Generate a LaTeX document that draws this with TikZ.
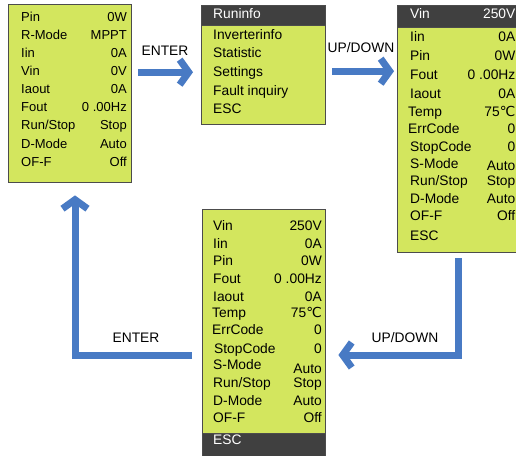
\documentclass[tikz,border=0pt]{standalone}
\usepackage{fontspec}
\setmainfont{Liberation Sans}
\newfontfamily\symfont{DejaVu Sans}
\usetikzlibrary{arrows.meta,positioning}
\definecolor{lcd}{RGB}{211,230,94}
\definecolor{lcddark}{RGB}{64,64,64}
\definecolor{flowblue}{RGB}{72,122,196}

\begin{document}
\begin{tikzpicture}[x=1pt,y=-1pt,every node/.style={font=\fontsize{13.8}{16}\selectfont}]
  \tikzset{panel/.style={draw=black!70,fill=lcd,anchor=north west,inner sep=0pt},
           bar/.style={draw=black!70,fill=lcddark,anchor=north west,inner sep=0pt},
           lbl/.style={anchor=mid west,inner sep=0pt},
           val/.style={anchor=mid east,inner sep=0pt},
           hd/.style={text=white},
           small/.style={font=\fontsize{13}{15}\selectfont},
           flow/.style={draw=flowblue,line width=7pt,-{Straight Barb[length=9pt,width=25pt]}}}
  \useasboundingbox (0,0) rectangle (516,455);
  % screens
  \node[panel,minimum width=123pt,minimum height=178pt] (p1) at (8,4) {};
  \node[panel,minimum width=124pt,minimum height=119pt] (p2) at (201,5) {};
  \node[bar,minimum width=124pt,minimum height=20pt] (h2) at (201,5) {};
  \node[panel,minimum width=130pt,minimum height=247pt] (p3) at (397,5) {};
  \node[bar,minimum width=130pt,minimum height=22pt] (h3) at (397,5) {};
  \node[panel,minimum width=123pt,minimum height=260pt] (p4) at (202,209) {};
  \node[bar,minimum width=123pt,minimum height=36pt] (f4) at (202,433) {};
  % main screen
  \node[lbl,small] (a1) at (21,19) {Pin};        \node[val,small] (a1v) at (127,19) {0W};
  \node[lbl,small] (a2) at (21,37) {R-Mode};     \node[val,small] (a2v) at (127,37) {MPPT};
  \node[lbl,small] (a3) at (21,55) {Iin};        \node[val,small] (a3v) at (127,55) {0A};
  \node[lbl,small] (a4) at (21,73) {Vin};        \node[val,small] (a4v) at (127,73) {0V};
  \node[lbl,small] (a5) at (21,91) {Iaout};      \node[val,small] (a5v) at (127,91) {0A};
  \node[lbl,small] (a6) at (21,109) {Fout};      \node[val,small] (a6v) at (127,109) {0 .00Hz};
  \node[lbl,small] (a7) at (21,127) {Run/Stop};  \node[val,small] (a7v) at (127,127) {Stop};
  \node[lbl,small] (a8) at (21,146) {D-Mode};    \node[val,small] (a8v) at (127,146) {Auto};
  \node[lbl,small] (a9) at (21,164) {OF-F};      \node[val,small] (a9v) at (127,164) {Off};
  % menu
  \node[lbl,hd] (b0) at (213,16) {Runinfo};
  \node[lbl] (b1) at (213,37) {Inverterinfo};
  \node[lbl] (b2) at (213,55) {Statistic};
  \node[lbl] (b3) at (213,74) {Settings};
  \node[lbl] (b4) at (213,93) {Fault inquiry};
  \node[lbl] (b5) at (213,111) {ESC};
  % run info, first page
  \node[lbl,hd] (c0) at (410,16) {Vin};          \node[val,hd] (c0v) at (515.5,16) {250V};
  \node[lbl] (c1) at (410,39) {Iin};             \node[val] (c1v) at (515.5,39) {0A};
  \node[lbl] (c2) at (410,58) {Pin};             \node[val] (c2v) at (515.5,58) {0W};
  \node[lbl] (c3) at (410,77) {Fout};            \node[val] (c3v) at (515.5,77) {0 .00Hz};
  \node[lbl] (c4) at (410,96) {Iaout};           \node[val] (c4v) at (515.5,96) {0A};
  \node[lbl] (c5) at (408,114) {Temp};           \node[val] (c5v) at (515.5,114) {75{\symfont ℃}};
  \node[lbl] (c6) at (408,131) {ErrCode};        \node[val] (c6v) at (515.5,131) {0};
  \node[lbl] (c7) at (410,149) {StopCode};       \node[val] (c7v) at (515.5,149) {0};
  \node[lbl] (c8) at (410,166) {S-Mode};         \node[val] (c8v) at (515.5,168) {Auto};
  \node[lbl] (c9) at (410,183) {Run/Stop};       \node[val] (c9v) at (515.5,183) {Stop};
  \node[lbl] (c10) at (410,201) {D-Mode};        \node[val] (c10v) at (515.5,201) {Auto};
  \node[lbl] (c11) at (410,218) {OF-F};          \node[val] (c11v) at (515.5,218) {Off};
  \node[lbl] (c12) at (410,238) {ESC};
  % run info, last page
  \node[lbl] (d0) at (213,228) {Vin};            \node[val] (d0v) at (322,228) {250V};
  \node[lbl] (d1) at (213,246) {Iin};            \node[val] (d1v) at (322,246) {0A};
  \node[lbl] (d2) at (213,263) {Pin};            \node[val] (d2v) at (322,263) {0W};
  \node[lbl] (d3) at (213,281) {Fout};           \node[val] (d3v) at (322,281) {0 .00Hz};
  \node[lbl] (d4) at (213,299) {Iaout};          \node[val] (d4v) at (322,299) {0A};
  \node[lbl] (d5) at (212,315) {Temp};           \node[val] (d5v) at (322,315) {75{\symfont ℃}};
  \node[lbl] (d6) at (212,332) {ErrCode};        \node[val] (d6v) at (322,332) {0};
  \node[lbl] (d7) at (214,351) {StopCode};       \node[val] (d7v) at (322,351) {0};
  \node[lbl] (d8) at (213,367) {S-Mode};         \node[val] (d8v) at (322,371) {Auto};
  \node[lbl] (d9) at (213,385) {Run/Stop};       \node[val] (d9v) at (322,385) {Stop};
  \node[lbl] (d10) at (213,403) {D-Mode};        \node[val] (d10v) at (322,403) {Auto};
  \node[lbl] (d11) at (213,420) {OF-F};          \node[val] (d11v) at (322,420) {Off};
  \node[lbl,hd] (d12) at (213,442) {ESC};
  % keys
  \node (k1) at (165,51) {ENTER};
  \node (k2) at (361,48) {UP/DOWN};
  \node (k3) at (405,338) {UP/DOWN};
  \node (k4) at (136,338) {ENTER};
  \draw[flow,shorten <=7pt,shorten >=8pt] ([yshift=21pt]p1.east) -- ([yshift=-7.5pt]p2.west);
  \draw[flow,shorten <=7pt,shorten >=3pt] ([yshift=-6.5pt]p2.east) -- ([yshift=57.5pt]p3.west);
  \draw[flow,shorten <=6pt,shorten >=13pt] ([xshift=61pt]p3.south west) |- ([yshift=-146pt]p4.north east);
  \draw[flow,shorten <=10pt,shorten >=13pt] ([yshift=-146pt]p4.north west) -| ([xshift=67pt]p1.south west);
\end{tikzpicture}
\end{document}
